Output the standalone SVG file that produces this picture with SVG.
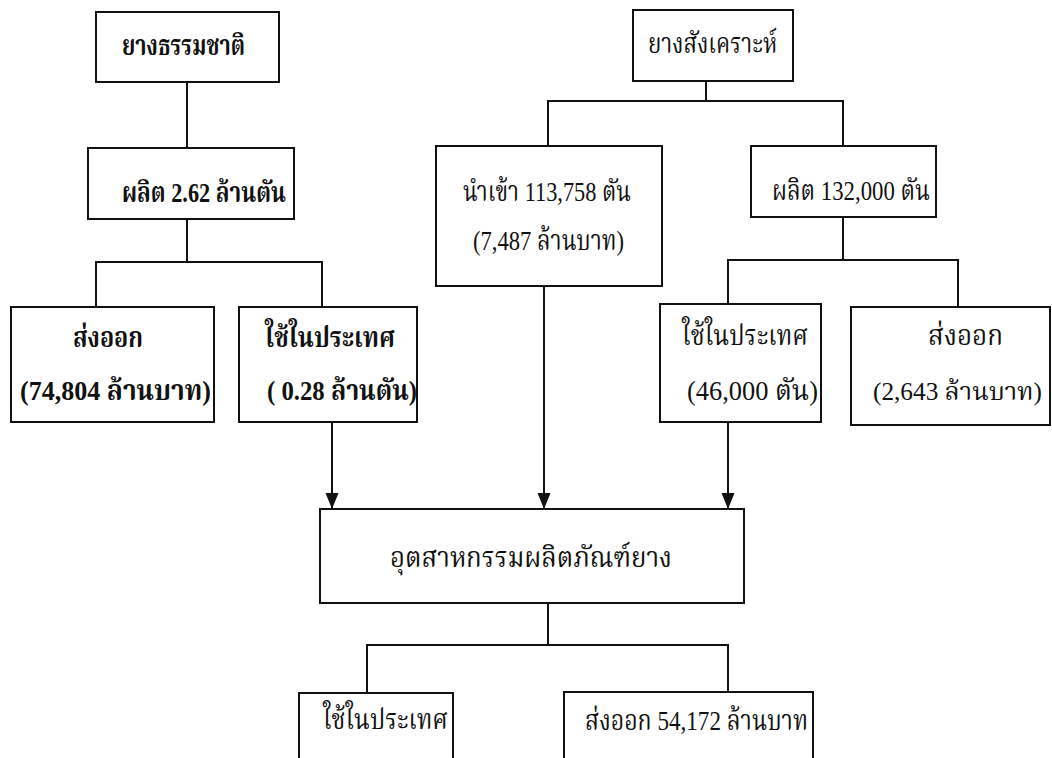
<svg xmlns="http://www.w3.org/2000/svg" width="1052" height="758" viewBox="0 0 1052 758">
<defs>
<style>
.box{fill:#fff;stroke:#111;stroke-width:2}
.ln{fill:none;stroke:#111;stroke-width:2}
.t{font-family:"Liberation Serif","Noto Serif Thai","Noto Sans Thai","Noto Sans",serif;font-size:28px;fill:#111}
.s{font-size:25px}
.b{font-weight:bold}
</style>
<marker id="ah" markerUnits="userSpaceOnUse" markerWidth="17" markerHeight="14" refX="16" refY="7" orient="auto" viewBox="0 0 17 14">
<path d="M0,0.5 L16,7 L0,13.5 Z" fill="#111"/>
</marker>
</defs>
<rect width="1052" height="758" fill="#fff"/>
<g id="connectors">
<path class="ln" d="M187,82 V148"/>
<path class="ln" d="M187,219 V262 M96,307 V262 H322 V307"/>
<path class="ln" d="M706,81 V101 M548,146 V101 H843 V146"/>
<path class="ln" d="M843,217 V260 M728,304 V260 H958 V307"/>
<path class="ln" d="M332,422 V509" marker-end="url(#ah)"/>
<path class="ln" d="M544,286 V509" marker-end="url(#ah)"/>
<path class="ln" d="M728,422 V509" marker-end="url(#ah)"/>
<path class="ln" d="M548,603 V645 M367,693 V645 H728 V692"/>
</g>
<g id="n-natural">
<rect class="box" x="96" y="12" width="183" height="70"/>
<text class="t b" x="122" y="55" textLength="123" lengthAdjust="spacingAndGlyphs">ยางธรรมชาติ</text>
</g>
<g id="n-natural-prod">
<rect class="box" x="88" y="148" width="206" height="71"/>
<text class="t b" x="122" y="202" textLength="164" lengthAdjust="spacingAndGlyphs">ผลิต 2.62 ล้านตัน</text>
</g>
<g id="n-synthetic">
<rect class="box" x="633" y="10" width="160" height="71"/>
<text class="t" x="648" y="53" textLength="129" lengthAdjust="spacingAndGlyphs">ยางสังเคราะห์</text>
</g>
<g id="n-import">
<rect class="box" x="436" y="146" width="226" height="140"/>
<text class="t" x="463" y="201" textLength="168" lengthAdjust="spacingAndGlyphs">นำเข้า 113,758 ตัน</text>
<text class="t" x="473" y="250" textLength="151" lengthAdjust="spacingAndGlyphs">(7,487 ล้านบาท)</text>
</g>
<g id="n-synth-prod">
<rect class="box" x="751" y="146" width="185" height="71"/>
<text class="t" x="772" y="200" textLength="158" lengthAdjust="spacingAndGlyphs">ผลิต 132,000 ตัน</text>
</g>
<g id="n-nat-export">
<rect class="box" x="11" y="307" width="203" height="115"/>
<text class="t b" x="73" y="347" textLength="70" lengthAdjust="spacingAndGlyphs">ส่งออก</text>
<text class="t b" x="20" y="400" textLength="191" lengthAdjust="spacingAndGlyphs">(74,804 ล้านบาท)</text>
</g>
<g id="n-nat-domestic">
<rect class="box" x="239" y="307" width="178" height="115"/>
<text class="t b" x="265" y="347" textLength="130" lengthAdjust="spacingAndGlyphs">ใช้ในประเทศ</text>
<text class="t b" x="267" y="400" textLength="150" lengthAdjust="spacingAndGlyphs">( 0.28 ล้านตัน)</text>
</g>
<g id="n-syn-domestic">
<rect class="box" x="660" y="304" width="161" height="118"/>
<text class="t" x="682" y="345" textLength="126" lengthAdjust="spacingAndGlyphs">ใช้ในประเทศ</text>
<text class="t" x="687" y="400" textLength="131" lengthAdjust="spacingAndGlyphs">(46,000 ตัน)</text>
</g>
<g id="n-syn-export">
<rect class="box" x="851" y="307" width="199" height="118"/>
<text class="t" x="928" y="345" textLength="75" lengthAdjust="spacingAndGlyphs">ส่งออก</text>
<text class="t s" x="873" y="400" textLength="169" lengthAdjust="spacingAndGlyphs">(2,643 ล้านบาท)</text>
</g>
<g id="n-industry">
<rect class="box" x="320" y="509" width="424" height="94"/>
<text class="t" x="390" y="567" textLength="282" lengthAdjust="spacingAndGlyphs">อุตสาหกรรมผลิตภัณฑ์ยาง</text>
</g>
<g id="n-ind-domestic">
<rect class="box" x="299" y="693" width="154" height="80"/>
<text class="t" x="323" y="729" textLength="125" lengthAdjust="spacingAndGlyphs">ใช้ในประเทศ</text>
</g>
<g id="n-ind-export">
<rect class="box" x="564" y="692" width="249" height="80"/>
<text class="t" x="585" y="730" textLength="223" lengthAdjust="spacingAndGlyphs">ส่งออก 54,172 ล้านบาท</text>
</g>
</svg>
